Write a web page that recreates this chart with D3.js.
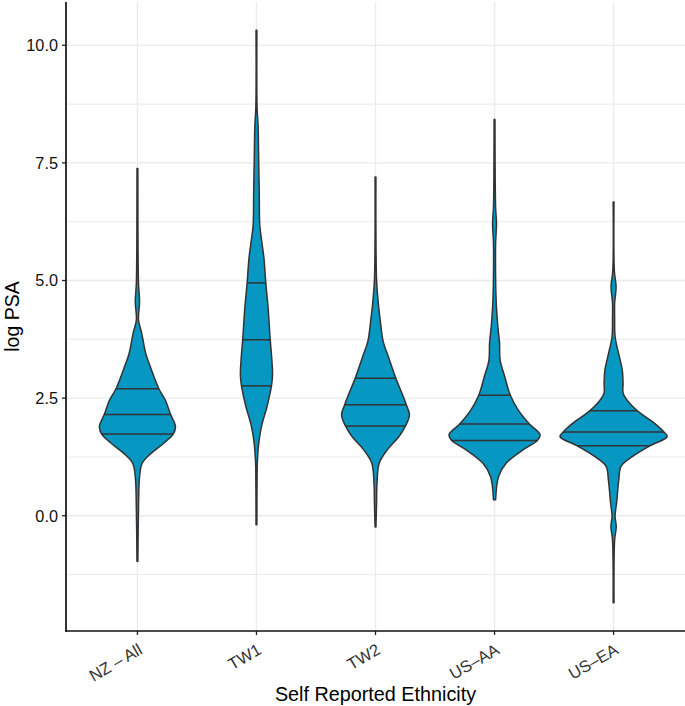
<!DOCTYPE html>
<html>
<head>
<meta charset="utf-8">
<script src="https://cdn.jsdelivr.net/npm/d3@7"></script>
<style>
  html, body { margin: 0; padding: 0; background: #ffffff; }
</style>
</head>
<body>
<div id="chart"></div>
<script>

//--------------------------------------
// DATA
//--------------------------------------

const categories = ["NZ – All", "TW1", "TW2", "US–AA", "US–EA"];

// violin outlines: [log PSA, relative density width]
const nzAllProfile = [
  [-0.97, 0.008], [0.13, 0.02], [0.83, 0.04], [1.12, 0.09], [1.33, 0.26],
  [1.54, 0.49], [1.74, 0.67], [1.90, 0.71], [2.15, 0.62], [2.46, 0.52],
  [2.70, 0.40], [3.17, 0.24], [3.45, 0.155], [3.88, 0.08], [4.16, 0.02],
  [4.55, 0.04], [4.94, 0.02], [6.0, 0.01], [7.38, 0.008]
];
const tw1Profile = [
  [-0.19, 0.008], [1.0, 0.013], [1.22, 0.02], [1.58, 0.047], [1.93, 0.10],
  [2.29, 0.19], [2.76, 0.28], [2.99, 0.30], [3.35, 0.285], [3.74, 0.257],
  [4.41, 0.218], [4.95, 0.174], [5.47, 0.14], [5.82, 0.10], [6.18, 0.062],
  [6.89, 0.052], [7.59, 0.041], [8.30, 0.03], [8.66, 0.012], [10.32, 0.008]
];
const tw2Profile = [
  [-0.24, 0.008], [0.27, 0.02], [0.69, 0.028], [1.12, 0.07], [1.40, 0.22],
  [1.68, 0.435], [1.91, 0.56], [2.14, 0.634], [2.36, 0.575], [2.53, 0.52],
  [2.92, 0.38], [3.38, 0.24], [3.70, 0.144], [4.16, 0.088], [4.52, 0.052],
  [5.01, 0.02], [7.20, 0.008]
];
const usAAProfile = [
  [0.34, 0.02], [0.83, 0.075], [1.12, 0.22], [1.40, 0.53], [1.60, 0.80],
  [1.72, 0.85], [1.95, 0.65], [2.25, 0.44], [2.56, 0.295], [2.96, 0.19],
  [3.30, 0.105], [3.67, 0.093], [4.02, 0.062], [4.52, 0.032], [5.08, 0.02],
  [5.79, 0.02], [6.21, 0.037], [6.55, 0.02], [8.42, 0.008]
];
const usEAProfile = [
  [-1.85, 0.008], [-0.51, 0.02], [-0.23, 0.05], [-0.01, 0.028], [0.27, 0.056],
  [0.55, 0.078], [0.76, 0.097], [1.05, 0.14], [1.26, 0.355], [1.49, 0.685],
  [1.68, 1.0], [1.78, 0.94], [1.97, 0.76], [2.23, 0.444], [2.39, 0.30],
  [2.60, 0.18], [2.82, 0.177], [3.10, 0.162], [3.38, 0.108], [3.81, 0.028],
  [4.20, 0.02], [4.52, 0.02], [4.87, 0.047], [5.20, 0.015], [6.67, 0.008]
];

const quantile25 = [1.74, 2.76, 1.91, 1.60, 1.49];
const quantile50 = [2.15, 3.74, 2.36, 1.95, 1.78];
const quantile75 = [2.70, 4.95, 2.92, 2.56, 2.23];

const yTicks = [0, 2.5, 5, 7.5, 10];
const yTickLabels = ["0.0", "2.5", "5.0", "7.5", "10.0"];
const yMinorTicks = [-1.25, 1.25, 3.75, 6.25, 8.75];
const yDomain = [-2.45, 10.92];

const profiles = [nzAllProfile, tw1Profile, tw2Profile, usAAProfile, usEAProfile];


//--------------------------------------
// SETUP
//--------------------------------------

const W = 685, H = 706;
const panelLeft = 66, panelRight = 685, panelTop = 2, panelBottom = 631;
const fontFamily = "'Liberation Sans', Arial, Helvetica, sans-serif";

const svg = d3.select("#chart").append("svg")
  .attr("width", W)
  .attr("height", H);

const x = d3.scalePoint()
  .domain(categories)
  .range([panelLeft, panelRight])
  .padding(0.6);

const y = d3.scaleLinear()
  .domain(yDomain)
  .range([panelBottom, panelTop]);

const halfW = d3.scaleLinear()
  .domain([0, 1])
  .range([0, x.step() * 0.45]);


//--------------------------------------
// GRID
//--------------------------------------

const grid = svg.append("g");

grid.selectAll("line.minor")
  .data(yMinorTicks)
  .enter()
  .append("line")
  .attr("x1", panelLeft).attr("x2", panelRight)
  .attr("y1", function(d) { return y(d); })
  .attr("y2", function(d) { return y(d); })
  .attr("stroke", "#ebebeb")
  .attr("stroke-width", 1.1);

grid.selectAll("line.major")
  .data(yTicks)
  .enter()
  .append("line")
  .attr("x1", panelLeft).attr("x2", panelRight)
  .attr("y1", function(d) { return y(d); })
  .attr("y2", function(d) { return y(d); })
  .attr("stroke", "#ebebeb")
  .attr("stroke-width", 1.3);

grid.selectAll("line.vert")
  .data(categories)
  .enter()
  .append("line")
  .attr("x1", function(d) { return x(d); })
  .attr("x2", function(d) { return x(d); })
  .attr("y1", panelTop).attr("y2", panelBottom)
  .attr("stroke", "#ebebeb")
  .attr("stroke-width", 1.3);


//--------------------------------------
// VIOLINS
//--------------------------------------

const violins = svg.append("g");

categories.forEach(function(cat, i) {

  let cx = x(cat);
  let prof = profiles[i];

  let area = d3.area()
    .y(function(d) { return y(d[0]); })
    .x0(function(d) { return cx - halfW(d[1]); })
    .x1(function(d) { return cx + halfW(d[1]); })
    .curve(d3.curveCatmullRom.alpha(0.5));

  violins.append("path")
    .datum(prof)
    .attr("d", area)
    .attr("fill", "#0797c3")
    .attr("stroke", "#333333")
    .attr("stroke-width", 1.5)
    .attr("stroke-linejoin", "round");

  // width of the outline at a given value
  let widthAt = d3.scaleLinear()
    .domain(prof.map(function(p) { return p[0]; }))
    .range(prof.map(function(p) { return p[1]; }));

  [quantile25[i], quantile50[i], quantile75[i]].forEach(function(q) {
    let w = halfW(widthAt(q));
    violins.append("line")
      .attr("x1", cx - w).attr("x2", cx + w)
      .attr("y1", y(q)).attr("y2", y(q))
      .attr("stroke", "#333333")
      .attr("stroke-width", 1.5);
  });

});


//--------------------------------------
// AXES
//--------------------------------------

const yAxis = svg.append("g");

yAxis.selectAll("line")
  .data(yTicks)
  .enter()
  .append("line")
  .attr("x1", panelLeft - 4).attr("x2", panelLeft)
  .attr("y1", function(d) { return y(d); })
  .attr("y2", function(d) { return y(d); })
  .attr("stroke", "#222")
  .attr("stroke-width", 1.3);

yAxis.selectAll("text")
  .data(yTicks)
  .enter()
  .append("text")
  .attr("x", panelLeft - 8)
  .attr("y", function(d) { return y(d) + 5.8; })
  .attr("text-anchor", "end")
  .attr("font-family", fontFamily)
  .attr("font-size", 16.3)
  .attr("fill", "#111")
  .text(function(d, i) { return yTickLabels[i]; });

const xAxis = svg.append("g");

xAxis.selectAll("line")
  .data(categories)
  .enter()
  .append("line")
  .attr("x1", function(d) { return x(d); })
  .attr("x2", function(d) { return x(d); })
  .attr("y1", panelBottom).attr("y2", panelBottom + 4)
  .attr("stroke", "#222")
  .attr("stroke-width", 1.3);

xAxis.selectAll("text")
  .data(categories)
  .enter()
  .append("text")
  .attr("transform", function(d) { return "translate(" + (x(d) + 6) + "," + 653 + ") rotate(-30)"; })
  .attr("text-anchor", "end")
  .attr("font-family", fontFamily)
  .attr("font-size", 16.5)
  .attr("fill", "#333")
  .text(function(d) { return d; });

// axis lines
svg.append("line")
  .attr("x1", panelLeft).attr("x2", panelLeft)
  .attr("y1", panelTop).attr("y2", panelBottom + 0.8)
  .attr("stroke", "#111")
  .attr("stroke-width", 1.7);

svg.append("line")
  .attr("x1", panelLeft - 0.8).attr("x2", panelRight)
  .attr("y1", panelBottom).attr("y2", panelBottom)
  .attr("stroke", "#111")
  .attr("stroke-width", 1.7);

// titles
svg.append("text")
  .attr("x", (panelLeft + panelRight) / 2)
  .attr("y", 701)
  .attr("text-anchor", "middle")
  .attr("font-family", fontFamily)
  .attr("font-size", 19.8)
  .attr("fill", "#000")
  .text("Self Reported Ethnicity");

svg.append("text")
  .attr("transform", "translate(19," + ((panelTop + panelBottom) / 2) + ") rotate(-90)")
  .attr("text-anchor", "middle")
  .attr("font-family", fontFamily)
  .attr("font-size", 19.5)
  .attr("fill", "#000")
  .text("log PSA");

</script>
</body>
</html>
